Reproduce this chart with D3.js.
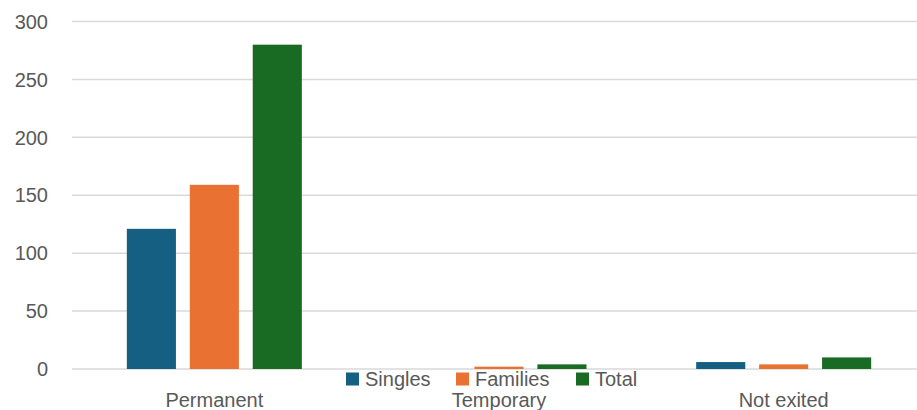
<html>
<head>
    <meta charset="utf-8">
    <title>Exits</title>
    <script src="https://d3js.org/d3.v7.min.js" charset="utf-8"></script>
    <style>
        body { margin: 0; background: #fff; }
        text { font-family: "Liberation Sans", Arial, sans-serif; fill: #595959; }
    </style>
</head>
<body>
    <div id="chart"></div>
    <script>
        const categories = ["Permanent", "Temporary", "Not exited"];
        const seriesNames = ["Singles", "Families", "Total"];
        const singles = [121, 0, 6];
        const families = [159, 2, 4];
        const total = [280, 4, 10];
        const yTicks = [0, 50, 100, 150, 200, 250, 300];
        const colors = ["#156082", "#e97132", "#196b24"];

        let width = 917,
            height = 410,
            plotLeft = 72,
            plotRight = 926,
            plotTop = 21.5,
            plotBottom = 369;

        const values = [singles, families, total];
        const rows = categories.map((c, i) => ({
            cat: c,
            vals: seriesNames.map((s, j) => ({ name: s, v: values[j][i], color: colors[j] }))
        }));

        const svg = d3.select("#chart").append("svg")
            .attr("width", width)
            .attr("height", height);

        const y = d3.scaleLinear().domain([0, 300]).range([plotBottom, plotTop]);
        const x0 = d3.scaleBand().domain(categories).range([plotLeft, plotRight]);
        const groupW = 175;
        const x1 = d3.scaleBand().domain(seriesNames)
            .range([(x0.bandwidth() - groupW) / 2, (x0.bandwidth() + groupW) / 2])
            .paddingInner(0.22);

        // gridlines
        svg.append("g")
            .selectAll("line")
            .data(yTicks)
            .enter()
            .append("line")
            .attr("x1", plotLeft)
            .attr("x2", plotRight)
            .attr("y1", d => y(d))
            .attr("y2", d => y(d))
            .style("stroke", "#d9d9d9")
            .style("stroke-width", 1.5);

        // y tick labels
        svg.append("g")
            .selectAll("text")
            .data(yTicks)
            .enter()
            .append("text")
            .attr("x", 48)
            .attr("y", d => y(d))
            .attr("dy", "0.36em")
            .attr("text-anchor", "end")
            .style("font-size", "20px")
            .text(d => d);

        // bars
        const groups = svg.append("g")
            .selectAll("g")
            .data(rows)
            .enter()
            .append("g")
            .attr("transform", d => `translate(${x0(d.cat)},0)`);

        groups.selectAll("rect")
            .data(d => d.vals)
            .enter()
            .append("rect")
            .attr("x", d => x1(d.name))
            .attr("width", x1.bandwidth())
            .attr("y", d => y(d.v))
            .attr("height", d => y(0) - y(d.v))
            .style("fill", d => d.color);

        // category labels
        svg.append("g")
            .selectAll("text")
            .data(categories)
            .enter()
            .append("text")
            .attr("x", d => x0(d) + x0.bandwidth() / 2)
            .attr("y", 400)
            .attr("dy", "0.36em")
            .attr("text-anchor", "middle")
            .style("font-size", "20px")
            .text(d => d);

        // legend
        const legendX = [346, 456, 576];
        const legend = svg.append("g")
            .selectAll("g")
            .data(seriesNames)
            .enter()
            .append("g")
            .attr("transform", (d, i) => `translate(${legendX[i]},379)`);

        legend.append("rect")
            .attr("x", 0)
            .attr("y", -6.5)
            .attr("width", 13)
            .attr("height", 13)
            .style("fill", (d, i) => colors[i]);

        legend.append("text")
            .attr("x", 19)
            .attr("dy", "0.36em")
            .style("font-size", "20px")
            .text(d => d);
</script>
</body>
</html>
